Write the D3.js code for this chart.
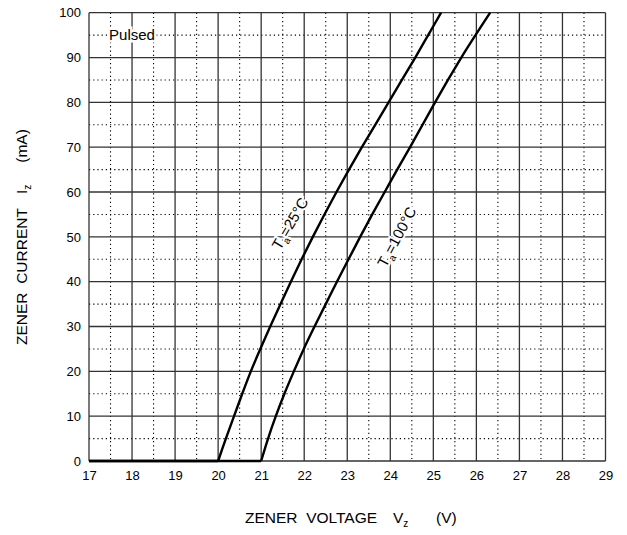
<!DOCTYPE html>
<html><head><meta charset="utf-8">
<script src="https://cdn.jsdelivr.net/npm/d3@7"></script>
<style>
body{margin:0;background:#fff}
text{font-family:"Liberation Sans",Arial,Helvetica,sans-serif;fill:#000}
</style>
</head><body>
<svg id="chart" width="627" height="535"></svg>
<script>
// ---- data ----
const currentPoints = [0,0,5,10,15,20,25,30,35,40,45,50,55,60,65,70,75,80,85,90,95,100];
const voltage25 = [17,20.0,20.18,20.37,20.56,20.76,20.98,21.21,21.45,21.69,21.94,22.2,22.47,22.75,23.04,23.34,23.65,23.96,24.27,24.58,24.88,25.18];
const voltage100 = [17,21.0,21.16,21.34,21.54,21.76,21.99,22.24,22.5,22.76,23.03,23.3,23.58,23.87,24.16,24.46,24.75,25.04,25.34,25.65,25.98,26.32];
const xTicks = [17,18,19,20,21,22,23,24,25,26,27,28,29];
const yTicks = [0,10,20,30,40,50,60,70,80,90,100];
const xMinor = [17.5,18.5,19.5,20.5,21.5,22.5,23.5,24.5,25.5,26.5,27.5,28.5];
const yMinor = [5,15,25,35,45,55,65,75,85,95];
const seriesLabels = [
  {t:"T", sub:"a", rest:"=25°C", v:21.67, i:53, angle:-60},
  {t:"T", sub:"a", rest:"=100°C", v:24.15, i:50, angle:-62}
];
const noteText = "Pulsed";
const xTitle = ["ZENER  VOLTAGE","V","z","(V)"];
const yTitle = ["ZENER  CURRENT","I","z","(mA)"];

// ---- layout ----
const L = 89, R = 605.5, T = 12.7, B = 461;
const svg = d3.select("#chart");
const x = d3.scaleLinear().domain([17,29]).range([L,R]);
const y = d3.scaleLinear().domain([0,100]).range([B,T]);

const g = svg.append("g");
// minor dotted grid
g.selectAll(".vmin").data(xMinor).join("line")
  .attr("x1",d=>x(d)).attr("x2",d=>x(d)).attr("y1",T).attr("y2",B)
  .attr("stroke","#000").attr("stroke-width",1.1).attr("stroke-dasharray","1.2,3");
g.selectAll(".hmin").data(yMinor).join("line")
  .attr("x1",L).attr("x2",R).attr("y1",d=>y(d)).attr("y2",d=>y(d))
  .attr("stroke","#000").attr("stroke-width",1.1).attr("stroke-dasharray","1.2,3");
// major grid
g.selectAll(".vmaj").data(xTicks).join("line")
  .attr("x1",d=>x(d)).attr("x2",d=>x(d)).attr("y1",T).attr("y2",B)
  .attr("stroke","#333").attr("stroke-width",1.3);
g.selectAll(".hmaj").data(yTicks).join("line")
  .attr("x1",L).attr("x2",R).attr("y1",d=>y(d)).attr("y2",d=>y(d))
  .attr("stroke","#333").attr("stroke-width",1.3);

// axes tick labels
const ax = svg.append("g").attr("transform",`translate(0,${B})`)
  .call(d3.axisBottom(x).tickValues(xTicks).tickSize(0).tickPadding(9.5).tickFormat(d3.format("d")));
const ay = svg.append("g").attr("transform",`translate(${L},0)`)
  .call(d3.axisLeft(y).tickValues(yTicks).tickSize(0).tickPadding(8).tickFormat(d3.format("d")));
[ax,ay].forEach(a=>{
  a.select(".domain").remove();
  a.selectAll("text").attr("font-size",13).attr("font-family",'"Liberation Sans",Arial,sans-serif').attr("fill","#000");
});

// curves
const line = d3.line().x(d=>x(d[0])).y(d=>y(d[1])).curve(d3.curveCatmullRom.alpha(0.5));
[voltage25, voltage100].forEach(vs=>{
  const pts = vs.map((v,k)=>[v,currentPoints[k]]);
  svg.append("path").datum(pts.slice(0,2))
    .attr("d",d3.line().x(d=>x(d[0])).y(d=>y(d[1]))).attr("fill","none").attr("stroke","#000")
    .attr("stroke-width",2.4);
  svg.append("path").datum(pts.slice(1))
    .attr("d",line).attr("fill","none").attr("stroke","#000")
    .attr("stroke-width",2.4).attr("stroke-linejoin","round");
});

// series labels
seriesLabels.forEach(s=>{
  const t = svg.append("text")
    .attr("transform",`translate(${x(s.v)},${y(s.i)}) rotate(${s.angle})`)
    .attr("text-anchor","middle").attr("dy","0.35em").attr("font-size",15)
    .attr("stroke","#fff").attr("stroke-width",4).attr("paint-order","stroke");
  t.append("tspan").text(s.t);
  t.append("tspan").text(s.sub).attr("font-size",10).attr("dy",4);
  t.append("tspan").text(s.rest).attr("dy",-4);
});

// note
svg.append("text").attr("x",x(18)).attr("y",y(95)).attr("dy","0.35em")
  .attr("text-anchor","middle").attr("font-size",15)
  .attr("stroke","#fff").attr("stroke-width",5).attr("paint-order","stroke")
  .text(noteText);

// x title
const xt = svg.append("text").attr("y",523).attr("font-size",15.5).style("white-space","pre");
xt.append("tspan").attr("x",245).text(xTitle[0]);
xt.append("tspan").attr("x",393).text(xTitle[1]);
xt.append("tspan").attr("font-size",10).attr("dy",4).text(xTitle[2]);
xt.append("tspan").attr("x",436).attr("dy",-4).text(xTitle[3]);

// y title
const yt = svg.append("text").attr("transform",`translate(27,0) rotate(-90)`)
  .attr("font-size",15.5).style("white-space","pre");
yt.append("tspan").attr("x",-345).text(yTitle[0]);
yt.append("tspan").attr("dx",14).text(yTitle[1]);
yt.append("tspan").attr("font-size",10).attr("dy",4).text(yTitle[2]);
yt.append("tspan").attr("dx",22).attr("dy",-4).text(yTitle[3]);
</script>
</body></html>
